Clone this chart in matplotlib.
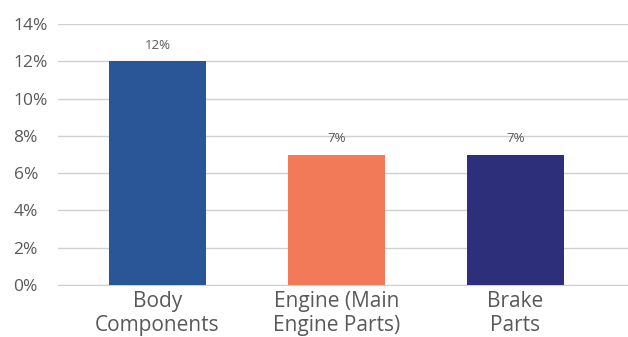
import numpy as np
import matplotlib.pyplot as plt

categories = ['Body\nComponents', 'Engine (Main\nEngine Parts)', 'Brake\nParts']
values = [12, 7, 7]
colors = ['#2a5597', '#f27a58', '#2e2f7b']
yticks = [0, 2, 4, 6, 8, 10, 12, 14]

plt.rcParams['font.family'] = ['Open Sans', 'DejaVu Sans']
text_color = '#595959'

fig = plt.figure(figsize=(6.28, 3.37), dpi=100)
ax = fig.add_axes([58/628, 1 - 285/337, 570/628, 261/337])

x = np.arange(len(categories))
bars = ax.bar(x, values, width=0.54, color=colors, zorder=3)
for b, v in zip(bars, values):
    ax.annotate(f'{v}%', (b.get_x() + b.get_width()/2, v), xytext=(0, 7),
                textcoords='offset points', ha='center', va='bottom',
                fontsize=9.5, color=text_color)

ax.set_xlim(-0.556, 2.63)
ax.set_ylim(0, 14)
ax.set_yticks(yticks)
ax.set_yticklabels([f'{t}%' for t in yticks], fontsize=12.5, color=text_color)
for lab in ax.get_yticklabels():
    lab.set_horizontalalignment('left')
ax.tick_params(axis='y', length=0, pad=32)
ax.set_xticks(x)
ax.set_xticklabels(categories, fontsize=15, color=text_color, linespacing=1.2)
ax.tick_params(axis='x', length=0, pad=4)

ax.grid(axis='y', color='#d0d0d0', linewidth=1, zorder=0)
for s in ['top', 'right', 'left']:
    ax.spines[s].set_visible(False)
ax.spines['bottom'].set_color('#d0d0d0')

fig.savefig('out.png', dpi=100)
